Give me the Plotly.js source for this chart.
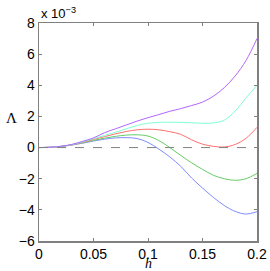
<!DOCTYPE html>
<html>
<head>
<meta charset="utf-8">
<script src="https://cdn.plot.ly/plotly-3.0.1.min.js"></script>
<style>html,body{margin:0;padding:0;background:#fff;}#plot{width:270px;height:271px;}</style>
</head>
<body>
<div id="plot"></div>
<script>
var h = [0, 0.01, 0.02, 0.03, 0.04, 0.05, 0.06, 0.07, 0.08, 0.09, 0.10, 0.11, 0.12, 0.13, 0.14, 0.15, 0.16, 0.17, 0.18, 0.19, 0.20];
var blue   = [0, 0.02, 0.07, 0.16, 0.28, 0.42, 0.54, 0.62, 0.64, 0.58, 0.33, -0.1, -0.6, -1.2, -1.95, -2.6, -3.2, -3.72, -4.1, -4.27, -4.12];
var green  = [0, 0.02, 0.07, 0.17, 0.31, 0.46, 0.6, 0.72, 0.8, 0.82, 0.74, 0.45, 0.0, -0.5, -0.98, -1.4, -1.78, -2.0, -2.1, -2.0, -1.66];
var red    = [0, 0.02, 0.08, 0.18, 0.34, 0.52, 0.7, 0.88, 1.03, 1.14, 1.18, 1.14, 1.02, 0.85, 0.5, 0.22, 0.08, 0.04, 0.2, 0.6, 1.3];
var cyan   = [0, 0.02, 0.08, 0.19, 0.37, 0.57, 0.78, 0.98, 1.2, 1.42, 1.56, 1.62, 1.63, 1.62, 1.59, 1.56, 1.58, 1.76, 2.35, 3.2, 4.0];
var purple = [0, 0.02, 0.08, 0.2, 0.4, 0.62, 0.95, 1.2, 1.45, 1.7, 1.92, 2.12, 2.33, 2.5, 2.7, 2.92, 3.3, 3.85, 4.6, 5.6, 7.0];

var xTicks = [0, 0.05, 0.1, 0.15, 0.2];
var xTickText = ["0", "0.05", "0.1", "0.15", "0.2"];
var yTicks = [-6, -4, -2, 0, 2, 4, 6, 8];
var yTickText = ["\u22126", "\u22124", "\u22122", "0", "2", "4", "6", "8"];

var series = [
  {y: blue, c: '#7f8cff'},
  {y: green, c: '#66cc66'},
  {y: red, c: '#ff7070'},
  {y: cyan, c: '#80ffd4'},
  {y: purple, c: '#b366ff'}
];
var data = series.map(function(s){
  return {x: h, y: s.y, mode: 'lines', line: {color: s.c, width: 1, shape: 'spline', smoothing: 1}, hoverinfo: 'skip'};
});

var axisCommon = {
  showgrid: false, zeroline: false, showline: true, linecolor: '#808080', linewidth: 1.5,
  ticks: 'inside', ticklen: 3, tickcolor: '#808080', mirror: 'ticks',
  tickfont: {family: 'Liberation Sans, Arial, sans-serif', size: 14, color: '#000'}
};
var layout = {
  width: 270, height: 271,
  margin: {l: 39, r: 13, t: 23, b: 30},
  paper_bgcolor: '#fff', plot_bgcolor: '#fff',
  showlegend: false,
  xaxis: Object.assign({}, axisCommon, {range: [0, 0.2], tickvals: xTicks, ticktext: xTickText}),
  yaxis: Object.assign({}, axisCommon, {range: [-6, 8], tickvals: yTicks, ticktext: yTickText}),
  shapes: [{type: 'line', xref: 'x', yref: 'y', x0: 0, x1: 0.2, y0: 0, y1: 0,
            line: {color: '#808080', width: 1, dash: 'dash'}}],
  annotations: [
    {text: 'x 10<sup>\u22123</sup>', xref: 'paper', yref: 'paper', x: 0, y: 1, xanchor: 'left', yanchor: 'bottom',
     showarrow: false, font: {family: 'Liberation Sans, Arial, sans-serif', size: 13, color: '#000'}},
    {text: '\u039b', xref: 'paper', yref: 'paper', x: 0, y: 0.565, xanchor: 'right', yanchor: 'middle',
     showarrow: false, xshift: -20, font: {family: 'Liberation Serif, Times New Roman, serif', size: 15, color: '#000'}},
    {text: '<i>h</i>', xref: 'paper', yref: 'paper', x: 0.5, y: 0, xanchor: 'center', yanchor: 'middle',
     showarrow: false, yshift: -22, borderpad: 0, font: {family: 'Liberation Serif, Times New Roman, serif', size: 14, color: '#000'}}
  ]
};
Plotly.newPlot('plot', data, layout, {staticPlot: true, displayModeBar: false});
</script>
</body>
</html>
